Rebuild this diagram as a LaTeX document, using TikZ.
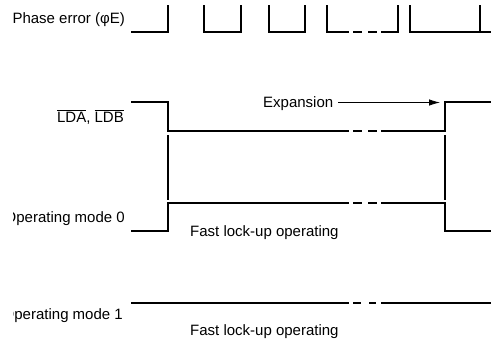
\documentclass[tikz,border=0pt]{standalone}
\usepackage{fontspec}
\setmainfont{Liberation Sans}
\usetikzlibrary{arrows.meta}
\newcommand{\ovl}[1]{$\overline{\hbox{#1}}$}
\begin{document}
\begin{tikzpicture}[x=1bp,y=-1bp,
  sig/.style={line width=1.7bp,line cap=butt,line join=miter},
  lbl/.style={inner sep=0pt,font=\fontsize{15bp}{18bp}\selectfont},
  arr/.style={line width=0.8bp,-{Latex[length=11bp,width=6.5bp]}}]
\useasboundingbox (0,0) rectangle (491,339);
% Phase error row
\draw[sig] (131,32) -- (168,32) -- (168,5);
\draw[sig] (204,5) -- (204,32) -- (241,32) -- (241,5);
\draw[sig] (269,5) -- (269,32) -- (305,32) -- (305,5);
\draw[sig] (327,5) -- (327,32) -- (349,32);
\draw[sig] (353,32) -- (362,32);
\draw[sig] (368,32) -- (377,32);
\draw[sig] (381,32) -- (398,32) -- (398,5);
\draw[sig] (410,5) -- (410,32) -- (491,32);
\draw[sig] (480,5) -- (480,32);
% LDA, LDB row
\draw[sig] (131,102) -- (168,102) -- (168,131) -- (349,131);
\draw[sig] (353,131) -- (362,131);
\draw[sig] (368,131) -- (377,131);
\draw[sig] (381,131) -- (445,131) -- (445,102) -- (491,102);
% separators
\draw[sig] (168,135) -- (168,200);
\draw[sig] (445,135) -- (445,200);
% Operating mode 0 row
\draw[sig] (131,231) -- (168,231) -- (168,203) -- (349,203);
\draw[sig] (353,203) -- (362,203);
\draw[sig] (368,203) -- (377,203);
\draw[sig] (381,203) -- (445,203) -- (445,231) -- (491,231);
% Operating mode 1 row
\draw[sig] (131,303) -- (349,303);
\draw[sig] (353,303) -- (361,303);
\draw[sig] (369,303) -- (376,303);
\draw[sig] (381,303) -- (491,303);
% labels
\node[lbl,anchor=base east] (pe) at (125,23) {Phase error (φE)};
\node[lbl,anchor=base east] (lda) at (124,122) {\ovl{LDA}, \ovl{LDB}};
\begin{scope}
\clip (13,0) rectangle (491,339);
\node[lbl,anchor=base east] (m0) at (125,222) {Operating mode 0};
\node[lbl,anchor=base east] (m1) at (123,319) {Operating mode 1};
\end{scope}
\node[lbl,anchor=base west] (f0) at (190,236) {Fast lock-up operating};
\node[lbl,anchor=base west] (f1) at (190,335) {Fast lock-up operating};
\node[lbl,anchor=base west] (exp) at (263,107) {Expansion};
\coordinate (tip) at (440,102.5);
\draw[arr] (exp.east |- tip) ++(5,0) -- (tip);
\end{tikzpicture}
\end{document}
